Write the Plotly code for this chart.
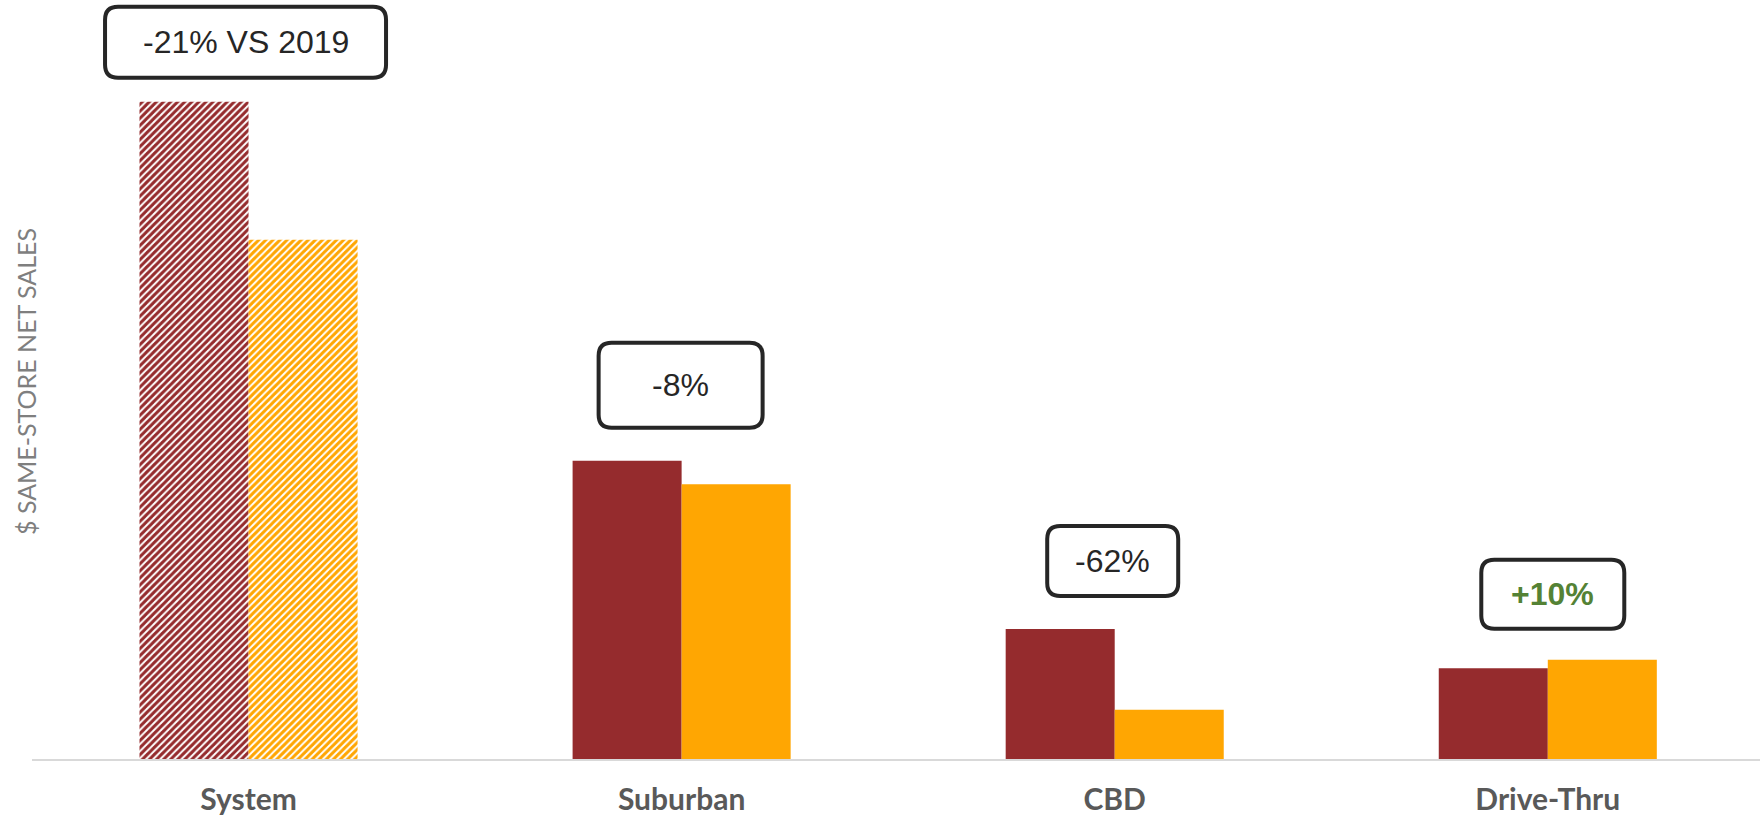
import plotly.graph_objects as go

categories = ["System", "Suburban", "CBD", "Drive-Thru"]
sales_2019 = [100.0, 45.4, 19.8, 13.8]
sales_2020 = [79.0, 41.8, 7.5, 15.1]
change_labels = ["-21% VS 2019", "-8%", "-62%", "+10%"]
label_colors = ["#262626", "#262626", "#262626", "#548235"]
label_weights = ["normal", "normal", "normal", "bold"]
hatched = [True, False, False, False]

MAROON = "#952B2D"
ORANGE = "#FFA602"

# annotation box geometry (pixels)
box_w = [281, 164, 131, 143]
box_h = [71, 85, 70, 69]
box_gap = [24, 33, 33, 31]
box_dx = [-3, -1, -2, 5]
radius = 13

x_idx = list(range(len(categories)))

fig = go.Figure()
fig.add_trace(go.Bar(
    x=x_idx, y=sales_2019, name="2019",
    marker=dict(
        color=MAROON, line=dict(width=0),
        pattern=dict(
            shape=["/" if h else "" for h in hatched],
            fgcolor=MAROON, bgcolor=["white" if h else MAROON for h in hatched],
            size=5, solidity=0.6, fillmode="replace",
        ),
    ),
))
fig.add_trace(go.Bar(
    x=x_idx, y=sales_2020, name="2020",
    marker=dict(
        color=ORANGE, line=dict(width=0),
        pattern=dict(
            shape=["/" if h else "" for h in hatched],
            fgcolor=ORANGE, bgcolor=["white" if h else ORANGE for h in hatched],
            size=5, solidity=0.6, fillmode="replace",
        ),
    ),
))


def rounded_path(x0, y0, x1, y1, r):
    # y positive upward (pixel sizemode)
    return (f"M {x0 + r},{y0} L {x1 - r},{y0} Q {x1},{y0} {x1},{y0 + r} "
            f"L {x1},{y1 - r} Q {x1},{y1} {x1 - r},{y1} L {x0 + r},{y1} "
            f"Q {x0},{y1} {x0},{y1 - r} L {x0},{y0 + r} Q {x0},{y0} {x0 + r},{y0} Z")


for i, cat in enumerate(categories):
    top = max(sales_2019[i], sales_2020[i])
    w, h, g, dx = box_w[i], box_h[i], box_gap[i], box_dx[i]
    fig.add_shape(
        type="path", xref="x", yref="y",
        xsizemode="pixel", ysizemode="pixel",
        xanchor=i, yanchor=top,
        path=rounded_path(dx - w / 2, g, dx + w / 2, g + h, radius),
        line=dict(color="#262626", width=4), fillcolor="white", layer="above",
    )
    fig.add_annotation(
        x=i, y=top, xref="x", yref="y",
        text=change_labels[i], showarrow=False,
        xshift=dx, yshift=g + h / 2, xanchor="center", yanchor="middle",
        font=dict(family="Liberation Sans, Arial", size=32,
                  color=label_colors[i], weight=label_weights[i]),
    )

fig.add_annotation(
    x=(26 - 32) / 1728, y=(759 - 382) / 759, xref="paper", yref="paper",
    text="$ SAME-STORE NET SALES", showarrow=False, textangle=-90,
    xanchor="center", yanchor="middle",
    font=dict(family="Lato", size=25, color="#7F7F7F"),
)

fig.update_layout(
    width=1760, height=817, autosize=False,
    margin=dict(l=32, r=0, t=0, b=58),
    paper_bgcolor="white", plot_bgcolor="white",
    barmode="group", bargap=0.4965, bargroupgap=0,
    showlegend=False,
    xaxis=dict(
        range=[-0.5, 3.49], tickmode="array", tickvals=x_idx, ticktext=categories,
        showline=True, linecolor="#D9D9D9", linewidth=2, showgrid=False,
        zeroline=False, ticks="", ticklabelstandoff=13,
        tickfont=dict(family="Lato", size=30, color="#595959", weight="bold"),
    ),
    yaxis=dict(
        range=[0, 115.5], showticklabels=False, showgrid=False,
        zeroline=False, showline=False, ticks="",
    ),
)

fig.write_html("out.html")
